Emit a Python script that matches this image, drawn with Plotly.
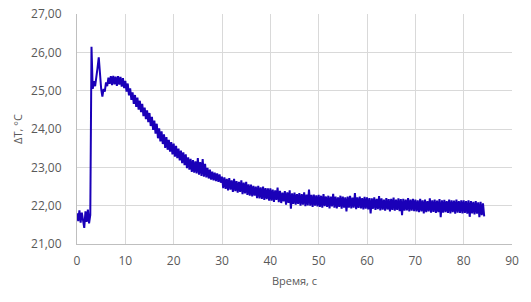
import plotly.graph_objects as go

# Sample interval of the recording, seconds
t_step = 0.25

# Baseline before the pulse (t = 0 .. 2.75 s)
dT_baseline = [21.80, 21.60, 21.88, 21.56, 21.82, 21.64, 21.42, 21.85, 21.58, 21.90, 21.54, 21.76]

# Pulse and first plateau (t = 3.0 .. 9.75 s)
dT_pulse = [26.15, 25.05, 25.25, 25.12, 25.45, 25.60, 25.87, 25.40, 25.05, 24.85,
            25.05, 24.98, 25.22, 25.12, 25.34, 25.18, 25.38, 25.15, 25.39, 25.17,
            25.37, 25.13, 25.38, 25.16, 25.36, 25.11, 25.33, 25.07]

# Decay (t = 10.0 .. 29.75 s)
dT_decay = [25.26, 24.98, 25.19, 24.88, 25.06, 24.76, 24.96, 24.66, 24.89, 24.58,
            24.82, 24.51, 24.74, 24.44, 24.66, 24.34, 24.56, 24.26, 24.49, 24.18,
            24.42, 24.08, 24.32, 23.98, 24.22, 23.88, 24.14, 23.76, 24.02, 23.68,
            23.94, 23.61, 23.86, 23.51, 23.79, 23.46, 23.72, 23.41, 23.66, 23.34,
            23.62, 23.28, 23.56, 23.24, 23.49, 23.18, 23.44, 23.11, 23.39, 23.06,
            23.34, 22.98, 23.26, 22.94, 23.22, 22.88, 23.19, 22.86, 23.16, 22.84,
            23.24, 22.81, 23.14, 22.78, 23.22, 22.76, 23.09, 22.74, 22.99, 22.71,
            22.94, 22.68, 22.89, 22.66, 22.86, 22.64, 22.84, 22.62, 22.82, 22.60]

# Slow tail (t = 30.0 .. 49.75 s)
dT_tail1 = [22.76, 22.46, 22.74, 22.44, 22.70, 22.40, 22.72, 22.42, 22.66, 22.36,
            22.70, 22.38, 22.64, 22.34, 22.62, 22.36, 22.66, 22.30, 22.60, 22.32,
            22.62, 22.28, 22.56, 22.26, 22.55, 22.24, 22.52, 22.26, 22.50, 22.20,
            22.52, 22.19, 22.48, 22.18, 22.50, 22.15, 22.46, 22.17, 22.45, 22.13,
            22.45, 22.13, 22.42, 22.10, 22.40, 22.15, 22.47, 22.09, 22.39, 22.07,
            22.34, 22.11, 22.38, 22.03, 22.35, 22.07, 22.40, 21.92, 22.32, 22.05,
            22.34, 22.03, 22.30, 22.05, 22.33, 22.00, 22.30, 22.03, 22.35, 21.99,
            22.29, 22.01, 22.42, 22.00, 22.28, 21.97, 22.29, 22.00, 22.27, 21.98]

# Slow tail (t = 50.0 .. 69.75 s)
dT_tail2 = [22.28, 21.97, 22.26, 21.95, 22.30, 21.99, 22.24, 21.97, 22.26, 21.93,
            22.24, 21.98, 22.31, 21.95, 22.24, 21.93, 22.22, 21.97, 22.26, 21.92,
            22.24, 21.95, 22.22, 21.85, 22.24, 21.95, 22.26, 21.93, 22.21, 21.95,
            22.33, 21.91, 22.22, 21.94, 22.24, 21.93, 22.20, 21.90, 22.23, 21.92,
            22.22, 21.90, 22.20, 21.80, 22.19, 21.92, 22.22, 21.89, 22.18, 21.91,
            22.25, 21.88, 22.19, 21.90, 22.16, 21.87, 22.20, 21.90, 22.17, 21.85,
            22.18, 21.89, 22.21, 21.87, 22.16, 21.89, 22.19, 21.86, 22.17, 21.75,
            22.18, 21.87, 22.16, 21.88, 22.20, 21.85, 22.16, 21.87, 22.18, 21.86]

# Slow tail (t = 70.0 .. 84.25 s)
dT_tail3 = [22.16, 21.85, 22.14, 21.83, 22.18, 21.85, 22.14, 21.80, 22.16, 21.83,
            22.12, 21.85, 22.19, 21.82, 22.14, 21.84, 22.16, 21.81, 22.13, 21.83,
            22.17, 21.70, 22.14, 21.82, 22.15, 21.83, 22.12, 21.81, 22.16, 21.80,
            22.14, 21.83, 22.13, 21.79, 22.16, 21.82, 22.12, 21.81, 22.14, 21.80,
            22.14, 21.81, 22.12, 21.79, 22.14, 21.71, 22.12, 21.80, 22.10, 21.77,
            22.12, 21.79, 22.09, 21.70, 22.10, 21.75, 22.06, 21.72]

dT = dT_baseline + dT_pulse + dT_decay + dT_tail1 + dT_tail2 + dT_tail3
time_s = [i * t_step for i in range(len(dT))]

x_ticks = [0, 10, 20, 30, 40, 50, 60, 70, 80, 90]
y_ticks = [21, 22, 23, 24, 25, 26, 27]
y_tick_labels = ["21,00", "22,00", "23,00", "24,00", "25,00", "26,00", "27,00"]

fig = go.Figure(go.Scatter(
    x=time_s, y=dT, mode="lines",
    line=dict(color="#1a00b8", width=2),
    showlegend=False,
))

font = dict(family="Open Sans, sans-serif", size=12, color="#595959")

fig.update_layout(
    width=531, height=302,
    margin=dict(l=77, r=19, t=14, b=58),
    paper_bgcolor="white", plot_bgcolor="white",
    font=font,
    xaxis=dict(
        range=[0, 90], tickvals=x_ticks, ticktext=[str(v) for v in x_ticks],
        showgrid=True, gridcolor="#d9d9d9", gridwidth=1,
        showline=True, linecolor="#bfbfbf", linewidth=1,
        zeroline=False, ticks="", ticklabelstandoff=6, automargin=False,
        ticklabeloverflow="allow",
        title=dict(text="Время, с", font=dict(size=11, color="#595959"), standoff=8),
    ),
    yaxis=dict(
        range=[21, 27.004], tickvals=y_ticks, ticktext=y_tick_labels,
        showgrid=True, gridcolor="#d9d9d9", gridwidth=1,
        showline=True, linecolor="#bfbfbf", linewidth=1,
        zeroline=False, ticks="", ticklabelstandoff=12, automargin=False,
        ticklabeloverflow="allow",
        title=dict(text="ΔT, °C", font=dict(size=11, color="#595959"), standoff=6),
    ),
)

fig.write_html("out.html", config={"displayModeBar": False},
               post_script="document.body.style.margin='0';")
